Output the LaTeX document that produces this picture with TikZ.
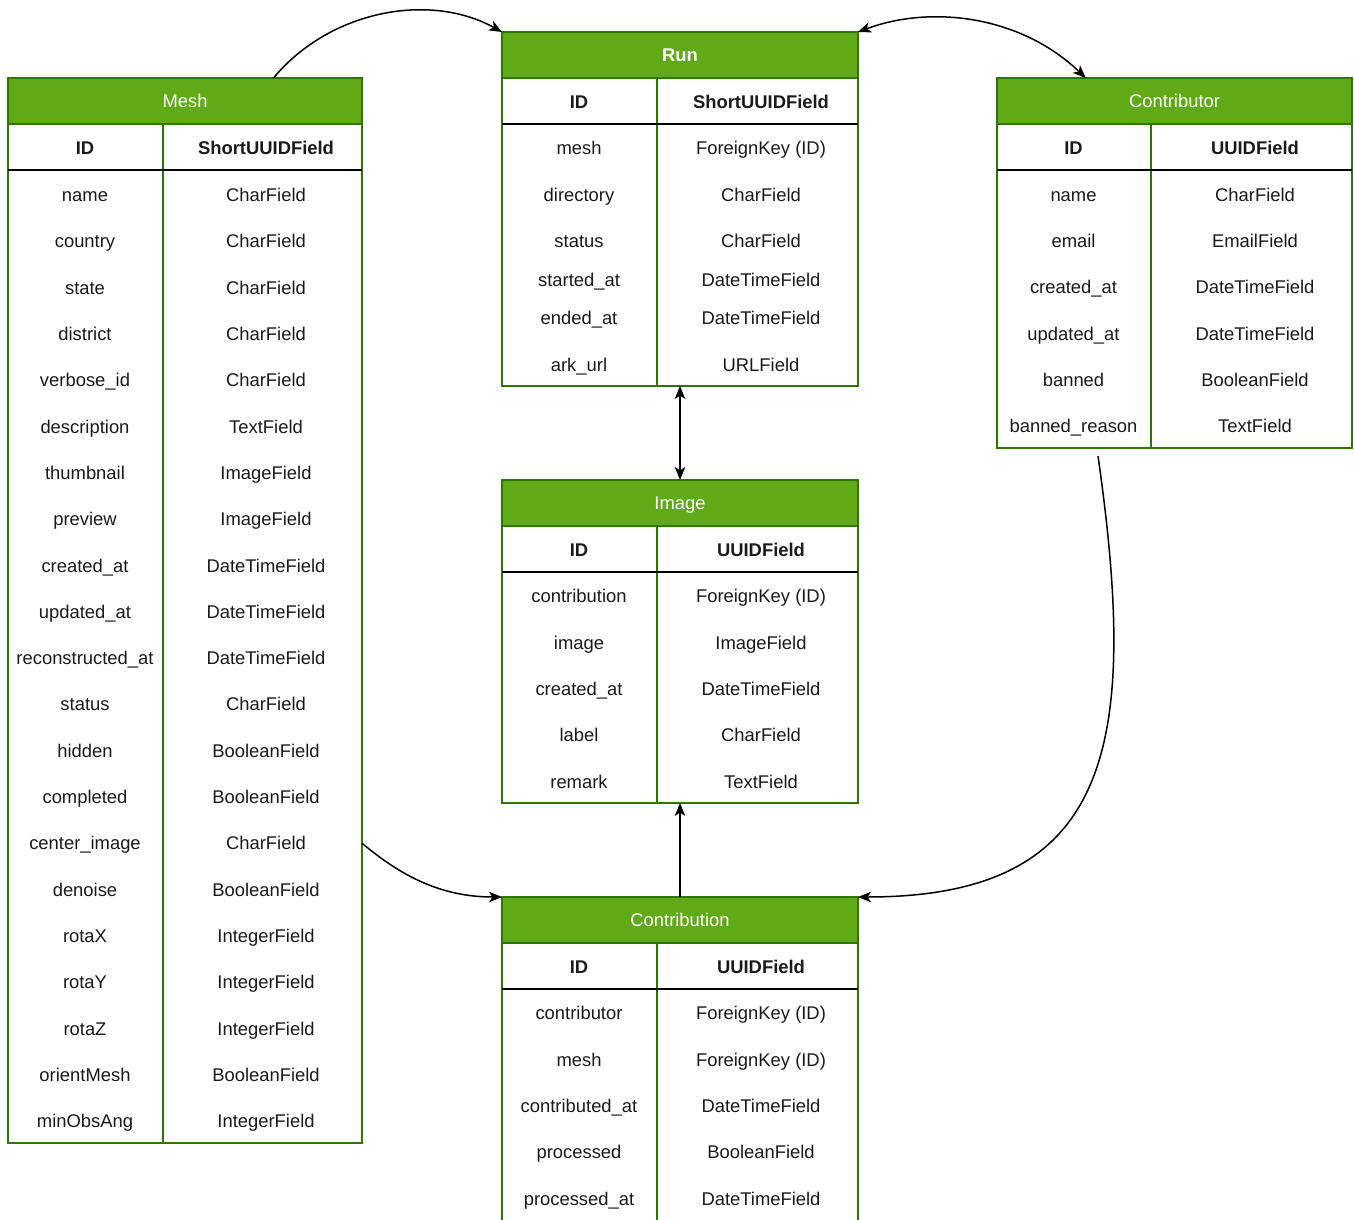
\documentclass[tikz,border=0pt]{standalone}
\usepackage{fontspec}
\setmainfont{Liberation Sans}
\usetikzlibrary{arrows.meta,calc}
\definecolor{hdrgreen}{HTML}{60A917}
\definecolor{bordergreen}{HTML}{2D7600}
\definecolor{txt}{HTML}{1A1A1A}
\tikzset{
  tbl/.style={draw=bordergreen, line width=1.5pt, fill=white, inner sep=0pt, outer sep=0pt, anchor=north west},
  hdr/.style={draw=bordergreen, line width=1.5pt, fill=hdrgreen, text=white, inner sep=0pt, outer sep=0pt,
              anchor=north west, minimum height=46pt, text height=13.2pt, text depth=0pt,
              font=\fontsize{18.4}{22}\selectfont},
  cell/.style={inner sep=0pt, text height=13.2pt, text depth=0pt, text=txt, font=\fontsize{18.4}{22}\selectfont},
  colhd/.style={cell, font=\fontsize{18.4}{22}\selectfont\bfseries},
  sepline/.style={line width=1.6pt, black},
  divline/.style={draw=bordergreen, line width=1.5pt},
  conn/.style={line width=1.5pt, black, >={Stealth[length=13pt,width=10.5pt,inset=3.5pt]}},
}
% #1 name, #2 x left, #3 x divider, #4 x right, #5 y top, #6 y bottom, #7 title, #8 id type, #9 rows
\newcommand{\erTable}[9]{%
  \node[tbl, minimum width={(#4-#2)*1pt}, minimum height={(#6-#5)*1pt}] (#1) at (#2,#5) {};
  \node[hdr, minimum width={(#4-#2)*1pt}] (#1-title) at (#2,#5) {#7};
  \draw[divline] (#3,{#5+46}) -- (#3,#6);
  \node[colhd] (#1-ida) at ({(#2+#3)/2-0.5},{#5+70}) {ID};
  \node[colhd] (#1-idb) at ({(#3+#4)/2+3.5},{#5+70}) {#8};
  \draw[sepline] (#2,{#5+92}) -- (#4,{#5+92});
  \foreach \y/\a/\b [count=\i] in {#9} {%
    \node[cell] (#1-\i-a) at ({(#2+#3)/2-0.5},{\y+1}) {\a};
    \node[cell] (#1-\i-b) at ({(#3+#4)/2+3.5},{\y+1}) {\b};
  }%
}
\begin{document}
\begin{tikzpicture}[x=1pt,y=-1pt]
\useasboundingbox (0,0) rectangle (1354,1220);
\fill[white] (0,0) rectangle (1354,1220);

\erTable{mesh}{8}{163}{362}{78}{1143}{Mesh}{ShortUUIDField}{%
  194/name/CharField,
  240.3/country/CharField,
  286.6/state/CharField,
  332.9/district/CharField,
  379.2/verbose\_id/CharField,
  425.5/description/TextField,
  471.8/thumbnail/ImageField,
  518.1/preview/ImageField,
  564.4/created\_at/DateTimeField,
  610.7/updated\_at/DateTimeField,
  657/reconstructed\_at/DateTimeField,
  703.3/status/CharField,
  749.6/hidden/BooleanField,
  795.9/completed/BooleanField,
  842.2/center\_image/CharField,
  888.5/denoise/BooleanField,
  934.8/rotaX/IntegerField,
  981.1/rotaY/IntegerField,
  1027.4/rotaZ/IntegerField,
  1073.7/orientMesh/BooleanField,
  1120/minObsAng/IntegerField}

\erTable{run}{502}{657}{858}{32}{386}{\bfseries Run}{ShortUUIDField}{%
  147/mesh/ForeignKey (ID),
  194/directory/CharField,
  240/status/CharField,
  279/started\_at/DateTimeField,
  317/ended\_at/DateTimeField,
  364/ark\_url/URLField}

\erTable{contributor}{997}{1151}{1352}{78}{448}{Contributor}{UUIDField}{%
  194/name/CharField,
  240/email/EmailField,
  286/created\_at/DateTimeField,
  333/updated\_at/DateTimeField,
  379/banned/BooleanField,
  425/banned\_reason/TextField}

\erTable{image}{502}{657}{858}{480}{803}{Image}{UUIDField}{%
  595/contribution/ForeignKey (ID),
  642/image/ImageField,
  688/created\_at/DateTimeField,
  734/label/CharField,
  781/remark/TextField}

\erTable{contribution}{502}{657}{858}{897}{1222}{Contribution}{UUIDField}{%
  1012/contributor/ForeignKey (ID),
  1059/mesh/ForeignKey (ID),
  1105/contributed\_at/DateTimeField,
  1151/processed/BooleanField,
  1198/processed\_at/DateTimeField}

% connectors
\draw[conn,->] ($(mesh.north west)!0.75!(mesh.north east)$)
  .. controls (330,10) and (430,-8) .. (run.north west);
\draw[conn,<->] (run.north east)
  .. controls (930,5) and (1020,15) .. ($(contributor.north west)!0.25!(contributor.north east)$);
\draw[conn,<->] (run.south) -- (image.north);
\draw[conn,->] (contribution.north) -- (image.south);
\draw[conn,->] (mesh.east |- mesh-15-b)
  .. controls (400,875) and (440,897) .. (contribution.north west);
\coordinate (cb) at (1098,456);
\draw[conn,->] (cb) .. controls (1140,750) and (1110,897) .. (contribution.north east);
\end{tikzpicture}
\end{document}
